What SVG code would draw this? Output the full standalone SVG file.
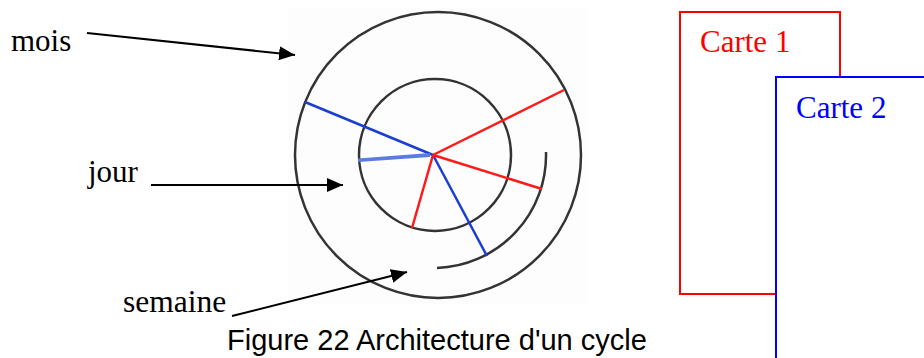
<svg xmlns="http://www.w3.org/2000/svg" width="924" height="358" viewBox="0 0 924 358">
<defs>
<marker id="arr" viewBox="0 0 16 14" refX="16" refY="7" markerWidth="16" markerHeight="14" markerUnits="userSpaceOnUse" orient="auto">
<path d="M0,0 L16,7 L0,14 Z" fill="#000"/>
</marker>
</defs>
<style>
.lbl{font-family:"Liberation Serif","Times New Roman",serif;font-size:31px;fill:#000}
.ring{fill:none;stroke:#333;stroke-width:2.5}
.conn{fill:none;stroke:#000;stroke-width:2}
.blue{stroke:#1a3fd0;stroke-width:2.5;fill:none}
.red{stroke:#ff1a1a;stroke-width:2.5;fill:none}
</style>
<rect width="924" height="358" fill="#fff"/>
<g id="cycle">
<rect x="288" y="8" width="300" height="296" fill="#fdfdfd"/>
<circle class="ring" cx="438" cy="155" r="143"/>
<circle class="ring" cx="435" cy="155" r="76"/>
<path class="ring" d="M546,152 A113,113 0 0 1 437,268"/>
<g id="spokes">
<line class="blue" x1="433" y1="155" x2="305" y2="102"/>
<path d="M358,158.5 L430,153 L430,157 L358,162 Z" fill="#5a7be0"/>
<line class="blue" x1="433" y1="155" x2="487" y2="256"/>
<line class="red" x1="433" y1="155" x2="564" y2="90"/>
<line class="red" x1="433" y1="155" x2="542" y2="189"/>
<line class="red" x1="433" y1="155" x2="412" y2="228"/>
</g>
</g>
<g id="mois"><text class="lbl" x="11" y="51">mois</text></g>
<g id="jour"><text class="lbl" x="88" y="182">jour</text></g>
<g id="semaine"><text class="lbl" x="123" y="312" style="font-size:31.5px">semaine</text></g>
<g id="connectors">
<line class="conn" x1="87" y1="33" x2="295" y2="55" marker-end="url(#arr)"/>
<line class="conn" x1="151" y1="185" x2="343" y2="185" marker-end="url(#arr)"/>
<line class="conn" x1="232" y1="316" x2="407" y2="272" marker-end="url(#arr)"/>
</g>
<g id="carte1">
<rect x="680" y="12" width="160" height="282" fill="#fff" stroke="#ff0000" stroke-width="2"/>
<text class="lbl" x="700" y="52" style="fill:#ff0000">Carte 1</text>
</g>
<g id="carte2">
<rect x="776" y="77" width="160" height="300" fill="#fff" stroke="#0000ff" stroke-width="2"/>
<text class="lbl" x="796" y="118" style="fill:#0000ff">Carte 2</text>
</g>
<g id="caption"><text x="227" y="350" style="font-family:'Liberation Sans',Arial,sans-serif;font-size:29px;fill:#000">Figure 22 Architecture d'un cycle</text></g>
</svg>
